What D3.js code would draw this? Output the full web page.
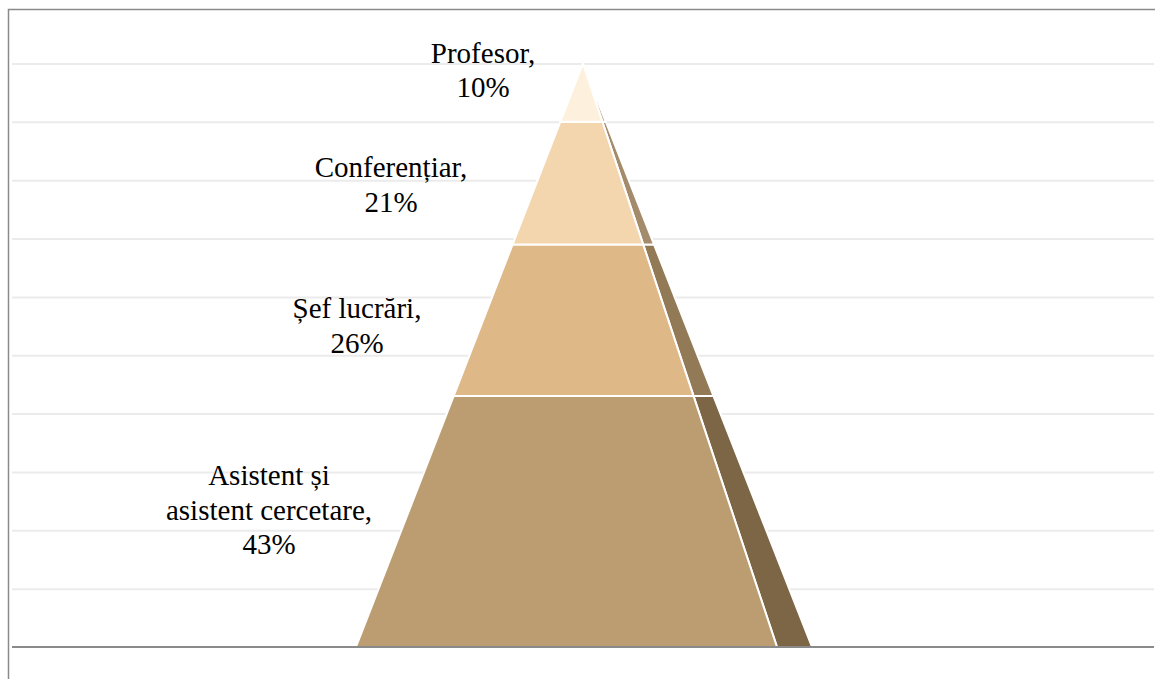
<!DOCTYPE html>
<html>
<head>
<meta charset="utf-8">
<script src="https://cdn.jsdelivr.net/npm/d3@7"></script>
<style>
  html, body { margin: 0; padding: 0; background: #fff; }
  svg { display: block; }
  .lbl { font-family: "Liberation Serif", "Times New Roman", serif; font-size: 29px; fill: #000; }
</style>
</head>
<body>
<svg id="chart" width="1155" height="679"></svg>
<script>
// Pyramid layers, bottom to top
const categories = ["Asistent și asistent cercetare", "Șef lucrări", "Conferențiar", "Profesor"];
const shares = [43, 26, 21, 10];
const labelLines = [
    ["Asistent și", "asistent cercetare,", "43%"],
    ["Șef lucrări,", "26%"],
    ["Conferențiar,", "21%"],
    ["Profesor,", "10%"]
];
const gridTicks = [10, 20, 30, 40, 50, 60, 70, 80, 90, 100];

const frontColors = ["#BC9D72", "#DEB887", "#F3D5AE", "#FDF0DC"];
const sideColors = ["#7C6646", "#937A56", "#A48B6C", "#C4B196"];

const svg = d3.select("#chart");
const width = +svg.attr("width");
const height = +svg.attr("height");

// cumulative percentage -> vertical position
const y = d3.scaleLinear().domain([0, 100]).range([647, 63.5]);

// pyramid geometry (apex and base corners)
const apexX = 583;
const baseLeft = 356, baseFront = 777, baseSide = 812;
const xAt = (base, v) => apexX + (base - apexX) * (1 - v / 100);

// gridlines
const grid = svg.append("g")
    .attr("transform", "translate(12,0)")
    .call(d3.axisLeft(y).tickValues(gridTicks).tickSize(-(width - 13)).tickFormat(""));
grid.select(".domain").remove();
grid.selectAll(".tick line").attr("stroke", "#ebebeb").attr("stroke-width", 2);

// frame (top and left)
svg.append("path")
    .attr("d", `M8.5,${height} L8.5,9.5 L${width},9.5`)
    .attr("fill", "none")
    .attr("stroke", "#8a8a8a")
    .attr("stroke-width", 1.5);

// layers
const cum = [];
shares.reduce((acc, v) => { cum.push([acc, acc + v]); return acc + v; }, 0);

const layers = svg.append("g").selectAll("g")
    .data(shares.map((v, i) => ({ name: categories[i], value: v, lo: cum[i][0], hi: cum[i][1], i })))
    .enter().append("g");

// side face
layers.append("path")
    .attr("d", d => `M${xAt(baseFront, d.lo)},${y(d.lo)} L${xAt(baseSide, d.lo)},${y(d.lo)} L${xAt(baseSide, d.hi)},${y(d.hi)} L${xAt(baseFront, d.hi)},${y(d.hi)} Z`)
    .attr("fill", d => sideColors[d.i])
    .attr("stroke", "#fff")
    .attr("stroke-width", 2)
    .attr("stroke-linejoin", "round");

// front face
layers.append("path")
    .attr("d", d => `M${xAt(baseLeft, d.lo)},${y(d.lo)} L${xAt(baseFront, d.lo)},${y(d.lo)} L${xAt(baseFront, d.hi)},${y(d.hi)} L${xAt(baseLeft, d.hi)},${y(d.hi)} Z`)
    .attr("fill", d => frontColors[d.i])
    .attr("stroke", "#fff")
    .attr("stroke-width", 2)
    .attr("stroke-linejoin", "round");

// base axis
svg.append("line")
    .attr("x1", 12).attr("x2", width - 1)
    .attr("y1", y(0)).attr("y2", y(0))
    .attr("stroke", "#8a8a8a").attr("stroke-width", 2);

// data labels (anchor x, first baseline)
const labelPos = [[269, 485], [357, 318], [391, 177], [483, 62.5]];
const lineGap = 34.5;

svg.append("g").selectAll("text")
    .data(labelLines)
    .enter().append("text")
    .attr("class", "lbl")
    .attr("text-anchor", "middle")
    .each(function(lines, i) {
        d3.select(this).selectAll("tspan")
            .data(lines)
            .enter().append("tspan")
            .attr("x", labelPos[i][0])
            .attr("y", (d, k) => labelPos[i][1] + k * lineGap)
            .text(d => d);
    });
</script>
</body>
</html>
